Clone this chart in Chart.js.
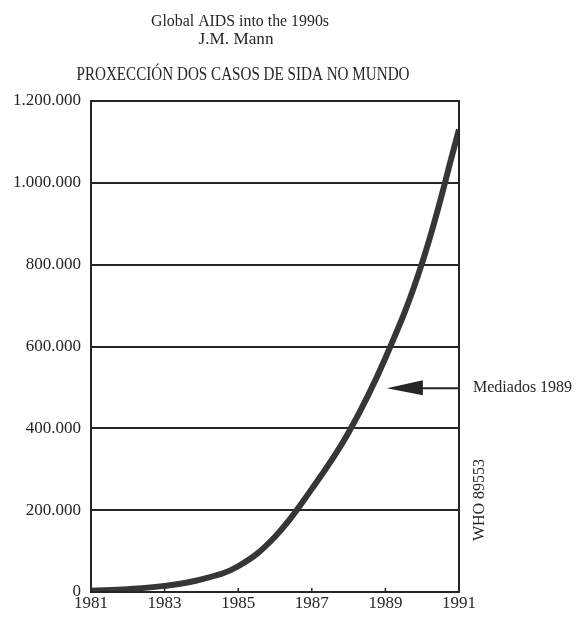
<!DOCTYPE html>
<html>
<head>
<meta charset="utf-8">
<title>Proxección dos casos de SIDA no mundo</title>
<script src="https://cdn.jsdelivr.net/npm/chart.js@4.4.1/dist/chart.umd.min.js"></script>
<style>
  html, body { margin: 0; padding: 0; background: #fff; }
  #wrap { width: 578px; height: 617px; }
</style>
</head>
<body>
<div id="wrap"><canvas id="chartSida" width="578" height="617"></canvas></div>
<script>
// Datos (leídos da gráfica)
const anos = [1981, 1982, 1983, 1984, 1985, 1986, 1987, 1988, 1989, 1990, 1991];
const casos = [3000, 7000, 15000, 31000, 63000, 135000, 252000, 390000, 572000, 805000, 1130000];
const ticksAnos = [1983, 1985, 1987, 1989, 1991];
const titulos = ["Global AIDS into the 1990s", "J.M. Mann", "PROXECCIÓN DOS CASOS DE SIDA NO MUNDO"];
const frecha = { ano: 1989.04, valor: 498000, texto: "Mediados 1989" };
const nota = "WHO 89553";

const serif = "'Liberation Serif', 'DejaVu Serif', serif";
const tinta = "#262626";

// texto axustado a un ancho dado
function textoAncho(ctx, txt, cx, cy, size, ancho) {
  ctx.save();
  ctx.font = size + "px " + serif;
  const w = ctx.measureText(txt).width;
  ctx.translate(cx, cy);
  ctx.scale(ancho / w, 1);
  ctx.textAlign = "center";
  ctx.textBaseline = "middle";
  ctx.fillText(txt, 0, 0);
  ctx.restore();
}

const extras = {
  id: "extras",
  afterDraw(chart) {
    const ctx = chart.ctx;
    const a = chart.chartArea;
    const x = chart.scales.x;
    const y = chart.scales.y;
    ctx.save();
    ctx.fillStyle = tinta;
    ctx.strokeStyle = tinta;

    // títulos
    textoAncho(ctx, titulos[0], 240, 22, 17, 178);
    textoAncho(ctx, titulos[1], 236, 40, 17, 75);
    textoAncho(ctx, titulos[2], 243, 75, 18, 333);

    // marco
    ctx.lineWidth = 2;
    ctx.strokeRect(a.left, a.top, a.right - a.left, a.bottom - a.top);

    // marcas do eixo x (cara dentro)
    ctx.lineWidth = 1.5;
    ticksAnos.forEach((t) => {
      const px = x.getPixelForValue(t);
      ctx.beginPath();
      ctx.moveTo(px, a.bottom);
      ctx.lineTo(px, a.bottom - 4);
      ctx.stroke();
    });

    // frecha
    const fx = x.getPixelForValue(frecha.ano);
    const fy = y.getPixelForValue(frecha.valor);
    ctx.lineWidth = 2;
    ctx.beginPath();
    ctx.moveTo(fx + 30, fy);
    ctx.lineTo(a.right, fy);
    ctx.stroke();
    ctx.beginPath();
    ctx.moveTo(fx, fy);
    ctx.lineTo(fx + 36, fy - 8);
    ctx.lineTo(fx + 36, fy + 7);
    ctx.closePath();
    ctx.fill();
    ctx.font = "16px " + serif;
    ctx.textAlign = "left";
    ctx.textBaseline = "middle";
    ctx.fillText(frecha.texto, a.right + 14, fy);

    // nota vertical
    ctx.translate(a.right + 21, 500);
    ctx.rotate(-Math.PI / 2);
    ctx.textAlign = "center";
    ctx.fillText(nota, 0, 0);
    ctx.restore();
  },
};

const cx = document.getElementById("chartSida").getContext("2d");
new Chart(cx, {
  type: "line",
  data: {
    labels: anos,
    datasets: [
      {
        label: "Casos de SIDA",
        data: anos.map((a, i) => ({ x: a, y: casos[i] })),
        borderColor: "#363636",
        borderWidth: 6,
        pointRadius: 0,
        tension: 0.4,
        fill: false,
      },
    ],
  },
  options: {
    responsive: false,
    animation: false,
    layout: { padding: { top: 101, right: 119, bottom: 0, left: 0 } },
    plugins: {
      legend: { display: false },
      tooltip: { enabled: false },
      title: { display: false },
    },
    scales: {
      x: {
        type: "linear",
        min: 1981,
        max: 1991,
        afterBuildTicks: (s) => {
          s.ticks = [1981].concat(ticksAnos).map((v) => ({ value: v }));
        },
        afterFit: (s) => {
          s.height = 25;
        },
        grid: { display: false, drawTicks: false },
        border: { color: tinta, width: 2 },
        ticks: {
          color: tinta,
          padding: 1,
          maxRotation: 0,
          font: { family: serif, size: 17 },
          callback: (v) => String(v),
        },
      },
      y: {
        min: 0,
        max: 1200000,
        afterFit: (s) => {
          s.width = 91;
        },
        grid: { color: tinta, lineWidth: 2, drawTicks: false },
        border: { color: tinta, width: 2 },
        ticks: {
          stepSize: 200000,
          color: tinta,
          padding: 10,
          font: { family: serif, size: 17 },
          callback: (v) => String(v).replace(/\B(?=(\d{3})+(?!\d))/g, "."),
        },
      },
    },
  },
  plugins: [extras],
});
</script>
</body>
</html>
